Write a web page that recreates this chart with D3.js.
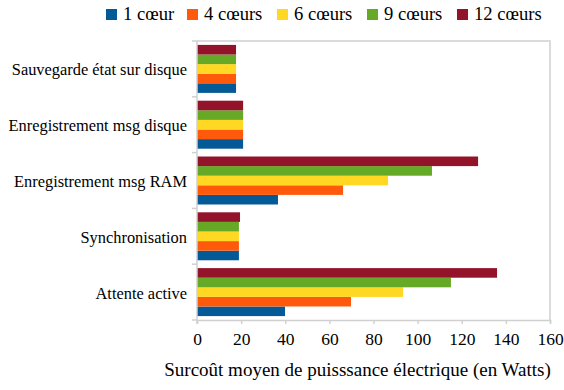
<!DOCTYPE html>
<html>
<head>
<meta charset="utf-8">
<script src="https://cdn.jsdelivr.net/npm/d3@7"></script>
<style>
  html, body { margin: 0; padding: 0; background: #fff; }
  svg { display: block; }
</style>
</head>
<body>
<svg id="chart" width="564" height="390"></svg>
<script>
// Categories, top to bottom
const categories = [
  "Sauvegarde état sur disque",
  "Enregistrement msg disque",
  "Enregistrement msg RAM",
  "Synchronisation",
  "Attente active"
];
const seriesNames = ["1 cœur", "4 cœurs", "6 cœurs", "9 cœurs", "12 cœurs"];
const seriesColors = ["#045a97", "#ff5a0c", "#ffd823", "#66a926", "#93132b"];

// Mean power overhead (W) per category, one array per core count
const cores1  = [17.7, 20.9, 36.7, 19.0, 39.9];
const cores4  = [17.7, 20.9, 66.2, 19.0, 69.8];
const cores6  = [17.7, 20.9, 86.6, 19.0, 93.4];
const cores9  = [17.7, 20.9, 106.5, 19.0, 115.1];
const cores12 = [17.7, 20.9, 127.4, 19.5, 136.0];
const seriesValues = [cores1, cores4, cores6, cores9, cores12];

const xTicks = [0, 20, 40, 60, 80, 100, 120, 140, 160];
const xTitle = "Surcoût moyen de puisssance électrique (en Watts)";

const FONT = '"Liberation Serif"';
const margin = { left: 197, right: 14, top: 41, bottom: 70 };
const W = 564, H = 390;
const svg = d3.select("#chart");

const x = d3.scaleLinear().domain([0, 160]).range([margin.left, W - margin.right]);
const y = d3.scaleBand().domain(categories).range([margin.top, H - margin.bottom]).paddingInner(0.14).paddingOuter(0.07);
// within each band, the 12-core bar sits on top and 1 core at the bottom
const ySub = d3.scaleBand().domain(d3.range(seriesNames.length).reverse()).range([0, y.bandwidth()]);

const frame = "#d0d0d0";
const step = (H - margin.bottom - margin.top) / categories.length;

// plot frame (top and right)
svg.append("path")
  .attr("d", `M${x(0)},${margin.top}H${x(160)}V${H - margin.bottom}`)
  .attr("fill", "none").attr("stroke", frame).attr("stroke-width", 1.5);

// bars
const rows = categories.map((c, i) => ({ c, vals: seriesValues.map(s => s[i]) }));
const g = svg.append("g").selectAll("g").data(rows).join("g")
  .attr("transform", d => `translate(0,${y(d.c)})`);
g.selectAll("rect").data(d => d.vals.map((v, k) => ({ v, k }))).join("rect")
  .attr("x", x(0))
  .attr("y", d => ySub(d.k))
  .attr("width", d => x(d.v) - x(0))
  .attr("height", ySub.bandwidth())
  .attr("fill", d => seriesColors[d.k]);

// y axis: category boundaries as ticks
const yAxisG = svg.append("g");
yAxisG.append("line")
  .attr("x1", x(0)).attr("x2", x(0))
  .attr("y1", margin.top).attr("y2", H - margin.bottom + 4)
  .attr("stroke", frame).attr("stroke-width", 1.5);
yAxisG.selectAll("line.tk").data(d3.range(categories.length + 1)).join("line")
  .attr("class", "tk")
  .attr("x1", x(0) - 5).attr("x2", x(0))
  .attr("y1", i => margin.top + i * step).attr("y2", i => margin.top + i * step)
  .attr("stroke", frame).attr("stroke-width", 1.5);
yAxisG.selectAll("text").data(categories).join("text")
  .attr("x", x(0) - 10)
  .attr("y", (d, i) => margin.top + (i + 0.5) * step)
  .attr("dy", "0.4em")
  .attr("text-anchor", "end")
  .style("font-family", FONT)
  .attr("font-size", 16.4)
  .attr("fill", "#000")
  .text(d => d);

// x axis
const xAxis = d3.axisBottom(x).tickValues(xTicks).tickSize(4).tickPadding(9);
const xg = svg.append("g").attr("transform", `translate(0,${H - margin.bottom})`).call(xAxis);
xg.select(".domain").attr("stroke", frame).attr("stroke-width", 1.5);
xg.selectAll(".tick line").attr("stroke", frame).attr("stroke-width", 1.5);
xg.selectAll(".tick text")
  .style("font-family", FONT).style("font-size", "17.5px").attr("fill", "#000");

// axis title
svg.append("text")
  .attr("x", 357.5)
  .attr("y", 376)
  .attr("text-anchor", "middle")
  .style("font-family", FONT)
  .attr("font-size", 19)
  .text(xTitle);

// legend
const legendX = [106, 187, 277, 367, 457];
const lg = svg.append("g").selectAll("g").data(seriesNames).join("g")
  .attr("transform", (d, i) => `translate(${legendX[i]},0)`);
lg.append("rect").attr("x", 0).attr("y", 9).attr("width", 11).attr("height", 11)
  .attr("fill", (d, i) => seriesColors[i]);
lg.append("text").attr("x", 17).attr("y", 20)
  .style("font-family", FONT).attr("font-size", 18.6).text(d => d);
</script>
</body>
</html>
